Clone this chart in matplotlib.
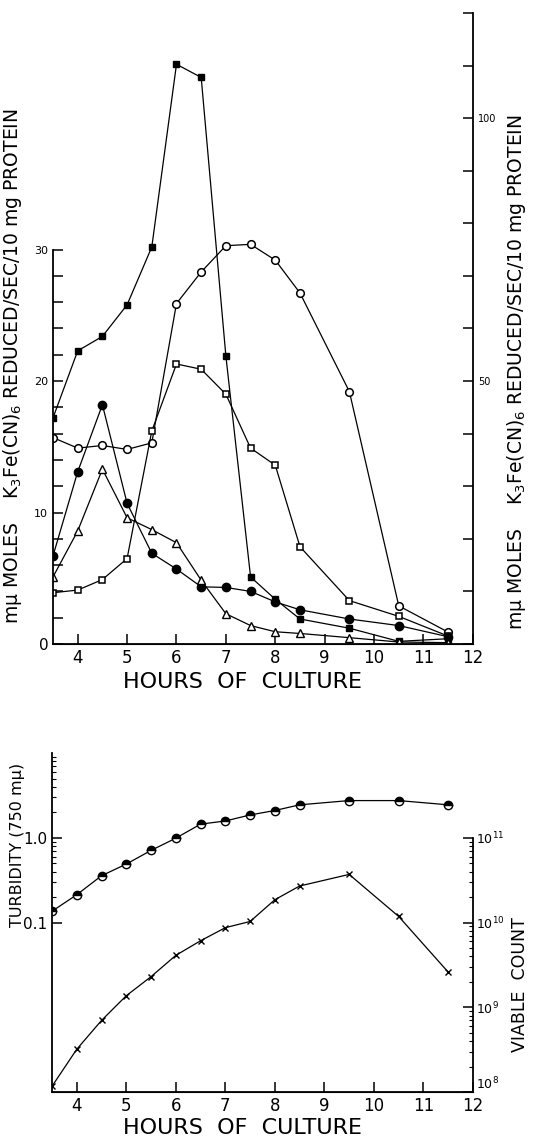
import numpy as np
import matplotlib.pyplot as plt

hours = [3.5, 4, 4.5, 5, 5.5, 6, 6.5, 7, 7.5, 8, 8.5, 9.5, 10.5, 11.5]

# top panel, left-axis units (right axis = 2.5 x left)
filled_squares = [17.2, 22.3, 23.4, 25.8, 30.2, 44.1, 43.1, 21.9, 5.1, 3.4, 1.9, 1.2, 0.2, 0.4]
open_circles = [15.7, 14.9, 15.1, 14.8, 15.3, 25.9, 28.3, 30.3, 30.4, 29.2, 26.7, 19.2, 2.9, 0.9]
open_squares = [3.9, 4.1, 4.9, 6.5, 16.2, 21.3, 20.9, 19.0, 14.9, 13.6, 7.4, 3.3, 2.1, 0.6]
filled_circles = [6.7, 13.1, 18.2, 10.7, 6.9, 5.7, 4.35, 4.3, 4.0, 3.2, 2.6, 1.9, 1.4, 0.55]
triangles = [5.1, 8.6, 13.3, 9.6, 8.7, 7.7, 4.85, 2.3, 1.4, 0.93, 0.8, 0.48, 0.15, 0.1]

# bottom panel
turbidity = [0.136, 0.213, 0.357, 0.49, 0.71, 0.99, 1.45, 1.58, 1.86, 2.1, 2.45, 2.75, 2.75, 2.45]
viable_count = [1.17e8, 3.2e8, 7.0e8, 1.37e9, 2.3e9, 4.1e9, 6.1e9, 8.7e9, 1.03e10,
                1.86e10, 2.7e10, 3.7e10, 1.18e10, 2.6e9]

x_ticks = [4, 5, 6, 7, 8, 9, 10, 11, 12]
left_ticks = list(range(0, 31, 2))
right_ticks = list(range(0, 121, 10))

activity_label = 'm\u03bc MOLES    K$_3$Fe(CN)$_6$ REDUCED/SEC/10 mg PROTEIN'

plt.rcParams['font.family'] = 'DejaVu Sans'
plt.rcParams['xtick.direction'] = 'in'
plt.rcParams['ytick.direction'] = 'in'

fig = plt.figure(figsize=(5.55, 11.41), dpi=100)
lw = 0.9
tick_kw = dict(length=7, width=1.1)

# ---- top panel ----
ax1 = fig.add_axes([0.0955, 0.4356, 0.7565, 0.553])
ax1.plot(hours, filled_squares, '-s', color='k', lw=lw, ms=5, mfc='k')
ax1.plot(hours, open_circles, '-o', color='k', lw=lw, ms=5.5, mfc='white', mew=1.1)
ax1.plot(hours, open_squares, '-s', color='k', lw=lw, ms=5, mfc='white', mew=1.1)
ax1.plot(hours, filled_circles, '-o', color='k', lw=lw, ms=6, mfc='k')
ax1.plot(hours, triangles, '-^', color='k', lw=lw, ms=5.5, mfc='white', mew=1.0)

ax1.set_xlim(3.5, 12)
ax1.set_ylim(0, 48)
ax1.spines['top'].set_visible(False)
ax1.spines['right'].set_visible(False)
ax1.spines['left'].set_bounds(0, 30)
for s in ax1.spines.values():
    s.set_linewidth(1.3)
ax1.set_xticks(x_ticks)
ax1.set_xticklabels([str(t) for t in x_ticks], fontsize=12)
ax1.set_yticks(left_ticks)
ax1.set_yticklabels([str(t) if t % 10 == 0 else '' for t in left_ticks], fontsize=8)
ax1.get_yticklabels()[0].set_fontsize(11)
ax1.tick_params(**tick_kw)
ax1.set_xlabel('HOURS  OF  CULTURE', fontsize=16)
ax1.xaxis.set_label_coords(0.452, -0.045)
ax1.set_ylabel(activity_label, fontsize=13.5)
ax1.yaxis.set_label_coords(-0.07, 0.44)

ax1r = ax1.twinx()
ax1r.set_ylim(0, 120)
ax1r.spines['top'].set_visible(False)
ax1r.spines['left'].set_visible(False)
ax1r.spines['right'].set_linewidth(1.3)
ax1r.set_yticks(right_ticks)
ax1r.set_yticklabels(['50' if t == 50 else '100' if t == 100 else '' for t in right_ticks], fontsize=7)
ax1r.tick_params(**tick_kw)
ax1r.set_ylabel(activity_label, fontsize=13.5)
ax1r.yaxis.set_label_coords(1.076, 0.43)

# ---- bottom panel ----
ax2 = fig.add_axes([0.0937, 0.0429, 0.7585, 0.2971])
ax2.plot(hours, turbidity, '-o', color='k', lw=lw, ms=6, fillstyle='top',
         mfc='k', mfcalt='white', mew=1.0)
ax2.set_yscale('log')
ax2.set_xlim(3.5, 12)
ax2.set_ylim(1e-3, 10)
ax2.spines['top'].set_visible(False)
ax2.spines['right'].set_visible(False)
for s in ax2.spines.values():
    s.set_linewidth(1.3)
ax2.set_xticks(x_ticks)
ax2.set_xticklabels([str(t) for t in x_ticks], fontsize=12)
ax2.set_yticks([0.1, 1.0])
ax2.set_yticklabels(['0.1', '1.0'], fontsize=11)
minor = [m * d for d in [0.1, 1.0] for m in range(2, 10)]
ax2.set_yticks(minor, minor=True)
ax2.tick_params(axis='y', which='minor', length=3, width=0.8)
ax2.tick_params(which='major', **tick_kw)
ax2.set_xlabel('HOURS  OF  CULTURE', fontsize=16)
ax2.xaxis.set_label_coords(0.452, -0.078)
ax2.set_ylabel('TURBIDITY (750 m\u03bc)', fontsize=11.5)
ax2.yaxis.set_label_coords(-0.064, 0.73)

ax2r = ax2.twinx()
ax2r.plot(hours, viable_count, '-x', color='k', lw=lw, ms=5, mew=1.0)
ax2r.set_yscale('log')
ax2r.set_ylim(1e8, 1e12)
ax2r.spines['top'].set_visible(False)
ax2r.spines['left'].set_visible(False)
ax2r.spines['right'].set_bounds(1e8, 1e11)
ax2r.spines['right'].set_linewidth(1.3)
ax2r.set_yticks([1e8, 1e9, 1e10, 1e11])
ax2r.set_yticklabels(['10$^8$', '10$^9$', '10$^{10}$', '10$^{11}$'], fontsize=9)
ax2r.get_yticklabels()[0].set_verticalalignment('bottom')
minor_r = [m * d for d in [1e8, 1e9, 1e10] for m in range(2, 10)]
ax2r.set_yticks(minor_r, minor=True)
ax2r.tick_params(axis='y', which='minor', length=3, width=0.8)
ax2r.tick_params(which='major', pad=2, **tick_kw)
ax2r.set_ylabel('VIABLE  COUNT', fontsize=12.5)
ax2r.yaxis.set_label_coords(1.09, 0.316)

fig.savefig('out.png', dpi=100)
